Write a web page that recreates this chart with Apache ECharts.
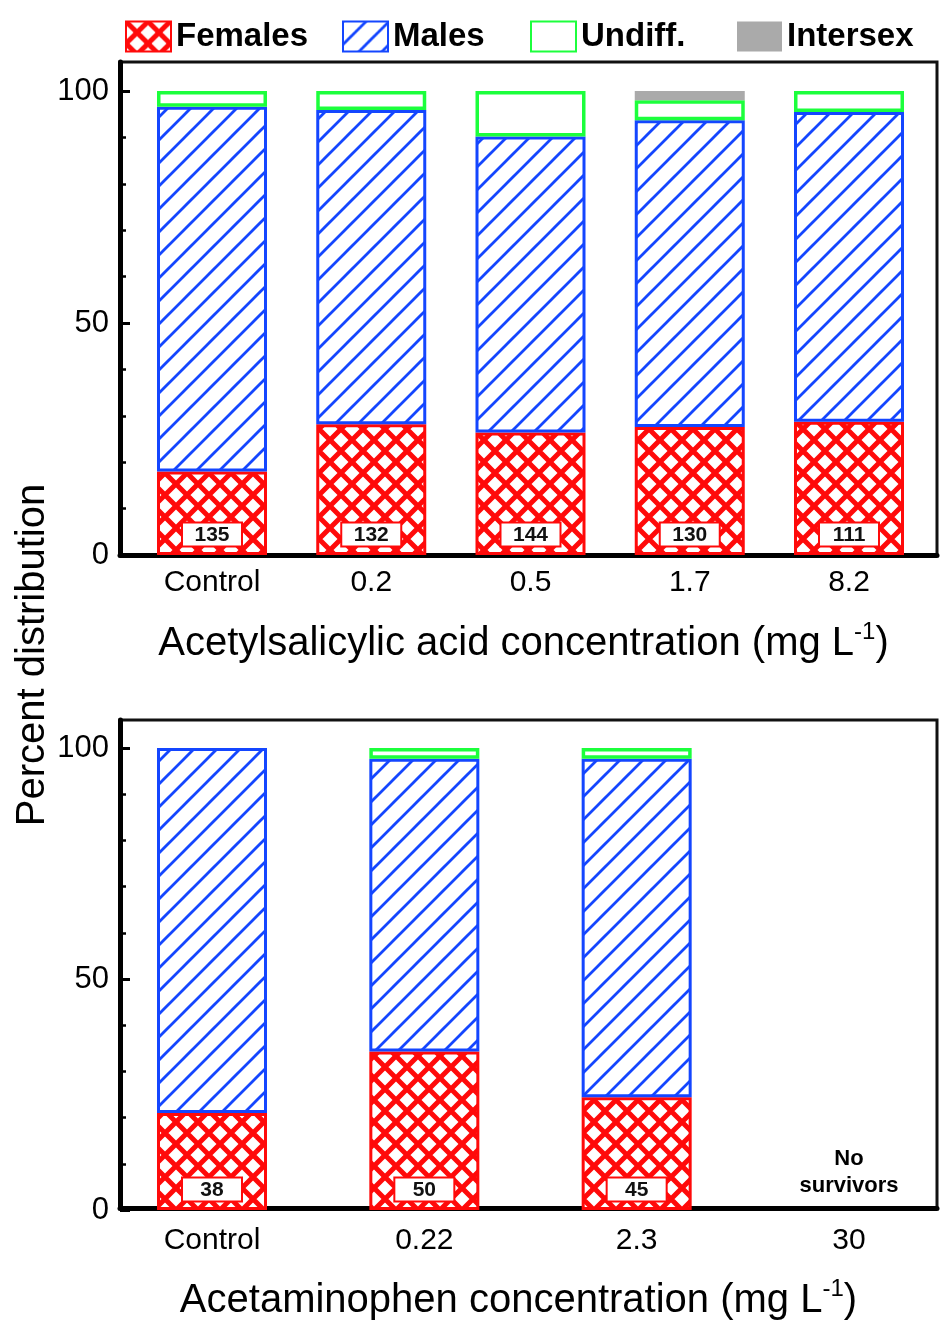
<!DOCTYPE html>
<html>
<head>
<meta charset="utf-8">
<script src="https://cdn.jsdelivr.net/npm/echarts@6/dist/echarts.min.js"></script>
<style>
  html, body { margin: 0; padding: 0; background: #fff; }
  #chart { width: 941px; height: 1322px; }
</style>
</head>
<body>
<div id="chart"></div>
<script>
// top panel: acetylsalicylic acid (percent of fish per sex class)
var aspCategories = ['Control', '0.2', '0.5', '1.7', '8.2'];
var aspFemales = [18.0, 28.2, 26.4, 27.6, 28.7];
var aspMales = [78.6, 67.7, 63.8, 66.1, 66.8];
var aspUndiff = [3.4, 4.1, 9.8, 4.3, 4.5];
var aspIntersex = ['-', '-', '-', 2.0, '-'];
var aspCounts = [135, 132, 144, 130, 111];

// bottom panel: acetaminophen
var apapCategories = ['Control', '0.22', '2.3', '30'];
var apapFemales = [21.0, 34.3, 24.4, 0];
var apapMales = [79.0, 63.4, 73.3, '-'];
var apapUndiff = ['-', 2.3, 2.3, '-'];
var apapIntersex = ['-', '-', '-', '-'];
var apapCounts = [38, 50, 45, null]; // null = no survivors

var yTicks = [0, 50, 100];

var RED = '#ff0a0a', BLUE = '#1446ff', GREEN = '#1cff3c', GRAY = '#aaaaaa';
var FONT = "'Liberation Sans', Arial, sans-serif";

// hatch fills
function makeTile(size, draw) {
  var c = document.createElement('canvas');
  c.width = size; c.height = size;
  var ctx = c.getContext('2d');
  ctx.fillStyle = '#fff';
  ctx.fillRect(0, 0, size, size);
  draw(ctx, size);
  return c;
}
var crossTile = makeTile(22, function (ctx, s) {
  ctx.strokeStyle = RED;
  ctx.lineWidth = 5;
  ctx.beginPath();
  ctx.moveTo(-2, s + 2); ctx.lineTo(s + 2, -2);
  ctx.moveTo(-2, -2); ctx.lineTo(s + 2, s + 2);
  ctx.stroke();
});
var diagTile = makeTile(23, function (ctx, s) {
  ctx.strokeStyle = BLUE;
  ctx.lineWidth = 2.8;
  ctx.beginPath();
  ctx.moveTo(0, s); ctx.lineTo(s, 0);
  ctx.moveTo(-3, 3); ctx.lineTo(3, -3);
  ctx.moveTo(s - 3, s + 3); ctx.lineTo(s + 3, s - 3);
  ctx.stroke();
});
var femaleFill = { image: crossTile, repeat: 'repeat' };
var maleFill = { image: diagTile, repeat: 'repeat' };

function panelSeries(stack, idx, females, males, undiff, intersex, counts) {
  var common = { type: 'bar', stack: stack, xAxisIndex: idx, yAxisIndex: idx, barWidth: 110, clip: false };
  return [
    Object.assign({}, common, {
      name: 'Females',
      itemStyle: { color: femaleFill, borderColor: RED, borderWidth: 3 },
      data: females.map(function (v, i) {
        if (counts[i] == null) return { value: v, itemStyle: { color: 'transparent', borderWidth: 0 } };
        return v;
      }),
      label: {
        show: true, position: 'insideBottom', distance: 11,
        formatter: function (p) {
          var n = counts[p.dataIndex];
          return n == null ? '{ns|No}\n{ns|survivors}' : '{box|' + n + '}';
        },
        rich: {
          box: {
            fontFamily: FONT, fontWeight: 'bold', fontSize: 21, color: '#111', lineHeight: 19,
            width: 36, align: 'center', backgroundColor: '#fff', borderColor: RED, borderWidth: 2,
            padding: [1, 11, 0, 11]
          },
          ns: { fontFamily: FONT, fontWeight: 'bold', fontSize: 22, color: '#000', lineHeight: 27, align: 'center' }
        }
      }
    }),
    Object.assign({}, common, {
      name: 'Males',
      itemStyle: { color: maleFill, borderColor: BLUE, borderWidth: 3 },
      data: males
    }),
    Object.assign({}, common, {
      name: 'Undiff.',
      itemStyle: { color: '#fff', borderColor: GREEN, borderWidth: 3.5 },
      data: undiff
    }),
    Object.assign({}, common, {
      name: 'Intersex',
      itemStyle: { color: GRAY, borderWidth: 0 },
      data: intersex
    })
  ];
}

function frameX(gridIndex, title, padRight, gap) {
  return {
    gridIndex: gridIndex, type: 'value', min: 0, max: 1,
    axisLine: { show: true, lineStyle: { color: '#000', width: 5 } },
    axisTick: { show: false }, axisLabel: { show: false }, splitLine: { show: false },
    name: title, nameLocation: 'middle', nameGap: gap,
    nameTextStyle: {
      padding: [0, padRight, 0, 0],
      rich: {
        m: { fontFamily: FONT, fontSize: 40, color: '#000', lineHeight: 48 },
        sup: { fontFamily: FONT, fontSize: 24, color: '#000', verticalAlign: 'top', lineHeight: 26 }
      }
    }
  };
}
function frameY(gridIndex) {
  return {
    gridIndex: gridIndex, type: 'value', min: 0, max: 1,
    axisLine: { show: true, lineStyle: { color: '#000', width: 5 } },
    axisTick: { show: false }, axisLabel: { show: false }, splitLine: { show: false }
  };
}
// categories sit on the ticks, first and last at the grid edges
function dataX(gridIndex, cats, margin) {
  return {
    gridIndex: gridIndex, type: 'category', data: cats, boundaryGap: false,
    axisLine: { show: false }, axisTick: { show: false }, splitLine: { show: false },
    axisLabel: { fontFamily: FONT, fontSize: 30, color: '#000', margin: margin, interval: 0 }
  };
}
function dataY(gridIndex, offset) {
  return {
    gridIndex: gridIndex, type: 'value',
    min: yTicks[0], max: yTicks[yTicks.length - 1], interval: yTicks[1] - yTicks[0],
    offset: offset,
    axisLine: { show: false },
    axisTick: { show: true, inside: true, length: 10, lineStyle: { color: '#000', width: 3 } },
    minorTick: { show: true, splitNumber: 5, length: 6, lineStyle: { color: '#000', width: 2.5 } },
    splitLine: { show: false },
    axisLabel: { fontFamily: FONT, fontSize: 31, color: '#000', margin: 11 }
  };
}

function legendAt(name, left) {
  return {
    data: [name], left: left, top: 20, padding: 0, icon: 'rect',
    itemWidth: 45, itemHeight: 30, selectedMode: false,
    textStyle: { fontFamily: FONT, fontWeight: 'bold', fontSize: 33, color: '#000' }
  };
}

var chart = echarts.init(document.getElementById('chart'), null, { renderer: 'canvas' });
chart.setOption({
  animation: false,
  backgroundColor: '#fff',
  legend: [
    legendAt('Females', 125),
    legendAt('Males', 342),
    legendAt('Undiff.', 530),
    legendAt('Intersex', 737)
  ],
  grid: [
    { left: 120, top: 62, width: 817, height: 493, show: true, borderColor: '#111', borderWidth: 3, backgroundColor: 'transparent' },
    { left: 212, top: 91, width: 637, height: 464 },
    { left: 120, top: 720, width: 817, height: 490, show: true, borderColor: '#111', borderWidth: 3, backgroundColor: 'transparent' },
    { left: 212, top: 748, width: 637, height: 462 }
  ],
  xAxis: [
    frameX(0, '{m|Acetylsalicylic acid concentration (mg L}{sup|-1}{m|)}', 10, 65),
    dataX(1, aspCategories, 13),
    frameX(2, '{m|Acetaminophen concentration (mg L}{sup|-1}{m|)}', 20, 69),
    dataX(3, apapCategories, 16)
  ],
  yAxis: [
    frameY(0),
    dataY(1, 92),
    frameY(2),
    dataY(3, 92)
  ],
  graphic: [
    {
      type: 'text', x: 33, y: 655, rotation: Math.PI / 2,
      style: {
        text: 'Percent distribution', x: 0, y: 0, align: 'center', verticalAlign: 'middle',
        fontFamily: FONT, fontSize: 40, fill: '#000'
      }
    }
  ],
  series: [].concat(
    panelSeries('asp', 1, aspFemales, aspMales, aspUndiff, aspIntersex, aspCounts),
    panelSeries('apap', 3, apapFemales, apapMales, apapUndiff, apapIntersex, apapCounts)
  )
});
</script>
</body>
</html>
